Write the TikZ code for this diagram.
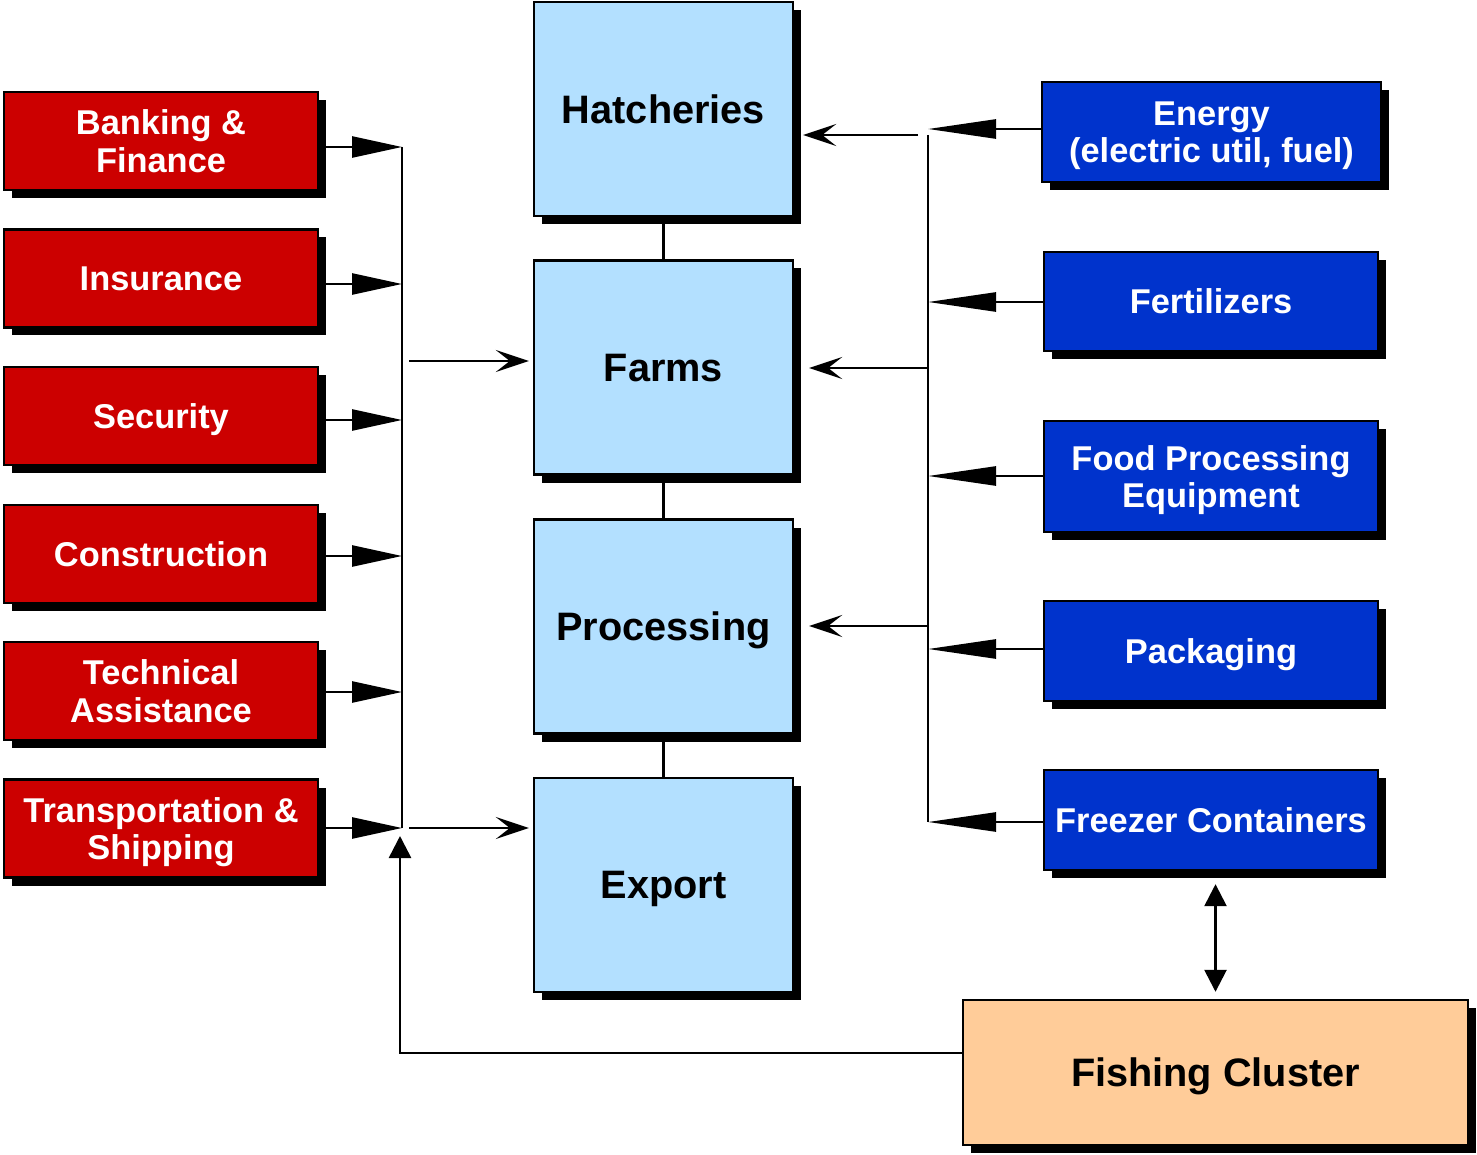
\documentclass[tikz,border=0pt]{standalone}
\usepackage{fontspec}
\setmainfont{Liberation Sans}
\usetikzlibrary{arrows.meta,shadows}
\definecolor{cRed}{HTML}{CC0000}
\definecolor{cLight}{HTML}{B3E0FF}
\definecolor{cBlue}{HTML}{0033CC}
\definecolor{cPeach}{HTML}{FFCC99}
\newcommand\sidefont{\fontsize{34.4pt}{37.5pt}\selectfont\bfseries}
\newcommand\bigfont{\fontsize{39.7pt}{44pt}\selectfont\bfseries}
\tikzset{
  box/.style={draw=black, line width=2.4pt, align=center, inner sep=0pt, text depth=0pt,
    drop shadow={shadow xshift=8pt, shadow yshift=-8pt, fill=black, opacity=1}},
  redbox/.style={box, fill=cRed, text=white, minimum width=314pt, minimum height=98pt, font=\sidefont},
  bluebox/.style={box, fill=cBlue, text=white, minimum width=334pt, minimum height=100pt, font=\sidefont},
  cbox/.style={box, fill=cLight, text=black, minimum width=259pt, minimum height=214pt, font=\bigfont},
  fbox/.style={box, fill=cPeach, text=black, minimum width=505pt, minimum height=145pt, font=\bigfont},
  conn/.style={draw=black, line width=2.6pt},
  leftarr/.style={-{Triangle[length=50pt,width=21pt]}},
  rightarr/.style={-{Triangle[length=68pt,width=19pt]}},
  feed/.style={-{Stealth[length=33pt,width=22pt,inset=14pt]}},
  smalltri/.style={-{Triangle[length=22pt,width=22pt]}},
  dbltri/.style={{Triangle[length=22pt,width=22pt]}-{Triangle[length=22pt,width=22pt]}}
}
\begin{document}
\begin{tikzpicture}[x=1pt,y=-1pt]
\useasboundingbox (0,0) rectangle (1477,1155);
% left (red) boxes
\node[redbox] (bank) at (161,141) {Banking \&\\Finance};
\node[redbox] (ins) at (161,278.5) {Insurance};
\node[redbox] (sec) at (161,416) {Security};
\node[redbox] (cons) at (161,554) {Construction};
\node[redbox] (tech) at (161,691) {Technical\\Assistance};
\node[redbox] (trans) at (161,828.5) {Transportation \&\\Shipping};
% center boxes
\node[cbox] (hat) at (663.5,109) {Hatcheries};
\node[cbox] (farms) at (663.5,367.5) {Farms};
\node[cbox] (proc) at (663.5,626.5) {Processing};
\node[cbox] (export) at (663.5,885) {Export};
% right (blue) boxes
\node[bluebox, minimum width=339pt] (energy) at (1211.5,132) {Energy\\(electric util, fuel)};
\node[bluebox, minimum height=99pt] (fert) at (1211,301.5) {Fertilizers};
\node[bluebox, minimum height=111pt] (food) at (1211,476.5) {Food Processing\\Equipment};
\node[bluebox] (pack) at (1211,651) {Packaging};
\node[bluebox] (freez) at (1211,820) {Freezer Containers};
% fishing cluster
\node[fbox] (fish) at (1215.5,1072.5) {Fishing Cluster};

% center chain
\draw[conn] (hat) -- (farms);
\draw[conn] (farms) -- (proc);
\draw[conn] (proc) -- (export);

% left bus
\coordinate (lb1) at (402,147);
\coordinate (lb2) at (402,284);
\coordinate (lb3) at (402,420);
\coordinate (lb4) at (402,556);
\coordinate (lb5) at (402,692);
\coordinate (lb6) at (402,828);
\draw[conn] (lb1) -- (lb6);
\draw[conn,leftarr] (bank.east |- lb1) -- (lb1);
\draw[conn,leftarr] (ins.east |- lb2) -- (lb2);
\draw[conn,leftarr] (sec.east |- lb3) -- (lb3);
\draw[conn,leftarr] (cons.east |- lb4) -- (lb4);
\draw[conn,leftarr] (tech.east |- lb5) -- (lb5);
\draw[conn,leftarr] (trans.east |- lb6) -- (lb6);
\coordinate (fa) at (409,361);
\coordinate (ex) at (409,828);
\draw[conn,feed,shorten >=4pt] (fa) -- (farms.west |- fa);
\draw[conn,feed,shorten >=4pt] (ex) -- (export.west |- ex);

% fishing return
\coordinate (fc) at (400,1053);
\coordinate (up) at (400,836);
\draw[conn,smalltri] (fish.west |- fc) -- (fc) -- (up);

% right bus
\coordinate (rb0) at (928,135);
\coordinate (rb6) at (928,822);
\draw[conn] (rb0) -- (rb6);
\coordinate (r1) at (928,129);
\coordinate (r2) at (928,302);
\coordinate (r3) at (928,476);
\coordinate (r4) at (928,649);
\coordinate (r5) at (928,822);
\draw[conn,rightarr] (energy.west |- r1) -- (r1);
\draw[conn,rightarr] (fert.west |- r2) -- (r2);
\draw[conn,rightarr] (food.west |- r3) -- (r3);
\draw[conn,rightarr] (pack.west |- r4) -- (r4);
\draw[conn,rightarr] (freez.west |- r5) -- (r5);
\coordinate (h1) at (918,135);
\coordinate (f1) at (928,368);
\coordinate (p1) at (928,626);
\draw[conn,feed,shorten >=9pt] (h1) -- (hat.east |- h1);
\draw[conn,feed,shorten >=15pt] (f1) -- (farms.east |- f1);
\draw[conn,feed,shorten >=15pt] (p1) -- (proc.east |- p1);

% freezer <-> fishing
\draw[conn,dbltri,shorten <=13pt,shorten >=7pt] (freez.south -| fish.north) -- (fish.north);
\end{tikzpicture}
\end{document}
